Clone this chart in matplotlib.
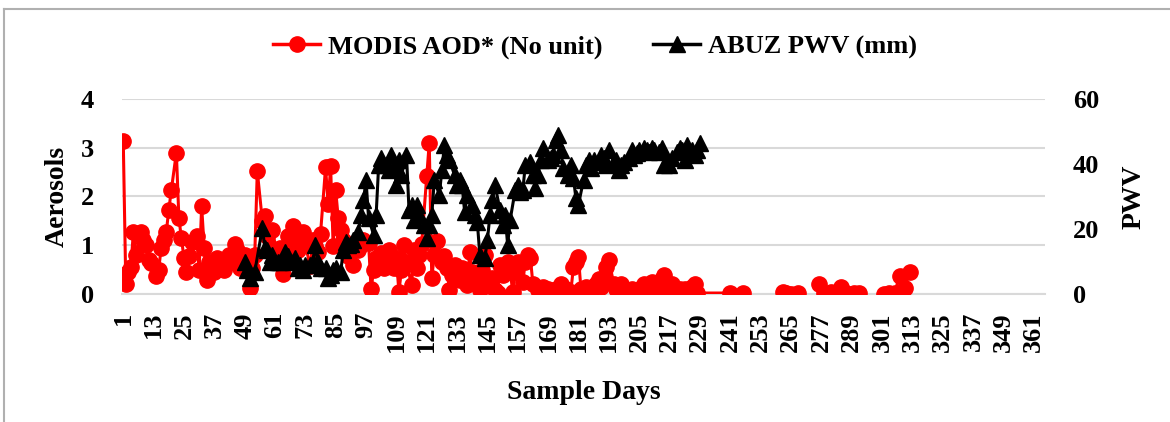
import numpy as np
import matplotlib
matplotlib.use("Agg")
import matplotlib.pyplot as plt
from matplotlib.lines import Line2D

# MODIS AOD (no unit) - sample day / value, nan = gap in the line
aod_days = [1, 2, 3, 4, 5, 6, 8, 9, 10, 11, 12, 14, 15, 16, 17, 18, 19, 20, 22, 23,
            24, 25, 26, 27, 28, 30, 31, 32, 33, 34, 35, 37, 38, 39, 40, 41, 43, 44, 45, 46,
            47, 49, 50, 51, 52, 53, 54, 56, 57, 58, 59, 60, 62, 63, 64, 65, 66, 68, 69, 70,
            71, 72, 73, 75, 76, 77, 78, 79, 81, 82, 83, 84, 85, 86, 87, 88, 89, 90, 91, 92,
            94, 95, 96, 98, 99, 100, 101, 102, 103, 104, 106, 107, 108, 109, 110, 111, 112, 113, 115, 116,
            117, 118, 119, 121, 122, 123, 124, 125, 127, 128, 129, 130, 131, 132, 134, 135, 136, 137, 138, 139,
            141, 142, 143, 144, 146, 147, 148, 149, 150, 151, 153, 154, 155, 156, 157, 159, 160, 161, 162, 163,
            165, 166, 167, 168, 169, 171, 172, 173, 174, 175, 176, 178, 179, 180, 181, 182, 183, 184, 185, 186,
            188, 189, 190, 191, 192, 193, 195, 196, 197, 198, 199, 201, 202, 203, 204, 205, 207, 208, 209, 210,
            211, 212, 214, 215, 216, 217, 218, 220, 221, 222, 223, 224, 226, 227, 228,
            241, 242, 246, 247,
            262, 263, 265, 268, 269,
            276, 278, 281, 285, 287, 290, 292, 293,
            302, 304, 306, 308, 310, 312]
aod_vals = [3.14, 0.2, 0.45, 0.55, 1.27, 0.8, 1.27, 1.1, 1.0, 0.7, 0.64, 0.37, 0.5, 0.95, 1.1, 1.27, 1.72, 2.13, 2.9, 1.55,
            1.15, 0.74, 0.45, 0.78, 1.07, 1.19, 0.49, 1.8, 0.95, 0.29, 0.66, 0.45, 0.74, 0.6, 0.66, 0.49, 0.8, 0.66, 1.03, 0.9,
            0.53, 0.8, 0.66, 0.12, 0.53, 0.8, 2.52, 1.5, 1.6, 1.19, 0.95, 1.32, 0.74, 0.95, 0.41, 0.9, 1.19, 1.4, 1.11, 0.9,
            1.11, 1.27, 1.0, 0.57, 1.11, 0.98, 0.86, 1.23, 2.6, 1.85, 2.62, 0.98, 2.13, 1.56, 1.31, 1.11, 0.98, 0.78, 0.9, 0.6,
            0.9, 1.0, 1.11, 1.05, 0.1, 0.49, 0.74, 0.64, 0.84, 0.53, 0.9, 0.66, 0.53, 0.74, 0.04, 0.49, 1.0, 0.66, 0.18, 0.9,
            0.53, 0.8, 1.03, 2.42, 3.1, 0.33, 0.8, 1.08, 0.66, 0.78, 0.53, 0.08, 0.39, 0.6, 0.29, 0.53, 0.49, 0.18, 0.86, 0.45,
            0.25, 0.08, 0.49, 0.8, 0.25, 0.33, 0.08, 0.02, 0.6, 0.39, 0.66, 0.49, 0.04, 0.45, 0.66, 0.25, 0.66, 0.8, 0.74, 0.2,
            0.08, 0.04, 0.15, 0.05, 0.1, 0.02, 0.1, 0.05, 0.2, 0.05, 0.1, 0.05, 0.55, 0.65, 0.75, 0.1, 0.05, 0.15, 0.02, 0.1,
            0.2, 0.3, 0.15, 0.3, 0.55, 0.7, 0.2, 0.1, 0.05, 0.2, 0.05, 0.02, 0.1, 0.05, 0.02, 0.1, 0.2, 0.05, 0.1, 0.25,
            0.05, 0.15, 0.3, 0.4, 0.1, 0.05, 0.2, 0.05, 0.1, 0.02, 0.1, 0.05, 0.15, 0.2, 0.02,
            0.02, np.nan, 0.02, np.nan,
            0.04, 0.02, 0.0, 0.02, np.nan,
            0.2, 0.02, 0.04, 0.15, 0.02, 0.02, 0.02, np.nan,
            0.0, 0.02, 0.02, 0.37, 0.12, 0.45]

# ABUZ PWV (mm)
pwv_days = [49, 50, 51, 53, 56, 57, 58, 59, 60, 62, 63, 64, 65, 66, 68, 69, 70, 71, 72, 73,
            75, 76, 77, 78, 79, 81, 82, 83, 84, 85, 87, 88, 89, 90, 91, 92, 94, 95, 96, 97,
            98, 100, 101, 102, 103, 104, 106, 107, 108, 109, 110, 111, 113, 114, 115, 116, 117, 118, 120, 121,
            122, 123, 124, 126, 127, 128, 129, 130, 132, 133, 134, 135, 136, 137, 139, 140, 141, 142, 144, 145,
            146, 147, 148, 150, 151, 152, 153, 154, 156, 157, 158, 159, 160, 162, 163, 164, 165, 166, 167, 169,
            170, 171, 172, 173, 174, 175, 177, 178, 179, 180, 181, 183, 184, 185, 186, 187, 189, 190, 191, 192,
            193, 195, 196, 197, 198, 199, 201, 202, 203, 204, 205, 207, 208, 209, 210, 211, 213, 214, 215, 216,
            217, 218, 220, 221, 222, 223, 224, 226, 227, 228, 229]
pwv_vals = [9.8, 7.4, 4.9, 6.8, 20.3, 14.2, 13.5, 9.8, 12.0, 9.8, 9.8, 11.1, 12.9, 11.7, 9.8, 11.1, 8.0, 8.9, 7.4, 8.9,
            8.9, 9.8, 15.1, 9.8, 8.0, 8.0, 4.9, 5.8, 7.4, 8.0, 6.8, 13.5, 16.0, 15.1, 15.4, 16.6, 19.1, 24.3, 28.9, 35.1,
            23.4, 18.2, 24.3, 39.7, 41.8, 39.7, 38.2, 42.8, 39.7, 33.5, 41.2, 36.6, 42.8, 25.8, 27.4, 22.8, 27.4, 24.3, 21.2, 17.2,
            21.2, 24.3, 35.1, 30.5, 38.2, 45.9, 42.8, 41.2, 36.6, 33.5, 35.1, 33.5, 25.2, 30.5, 27.4, 24.3, 22.2, 12.0, 11.1, 16.6,
            24.3, 28.9, 33.5, 25.8, 21.2, 24.3, 15.1, 22.8, 32.0, 33.5, 31.4, 32.0, 39.7, 40.6, 36.6, 32.6, 36.6, 41.2, 44.9, 41.2,
            41.8, 42.8, 47.4, 48.9, 44.3, 38.8, 36.6, 39.7, 35.7, 29.5, 27.4, 35.1, 39.7, 41.2, 38.8, 41.2, 40.6, 42.8, 41.8, 39.7,
            44.3, 40.6, 41.2, 38.2, 39.7, 40.6, 41.8, 44.3, 42.8, 43.4, 44.3, 44.9, 44.3, 43.7, 44.9, 44.3, 43.7, 44.9, 39.7, 40.6,
            39.7, 41.8, 43.7, 44.9, 44.3, 41.2, 45.9, 44.3, 42.8, 44.3, 46.5]

xticks = list(range(1, 366, 12))
aod_ticks = [0, 1, 2, 3, 4]
pwv_ticks = [0, 20, 40, 60]

plt.rcParams['font.family'] = ['Liberation Serif', 'DejaVu Serif']
plt.rcParams['font.weight'] = 'bold'

W, H = 1170, 422
fig = plt.figure(figsize=(W / 100, H / 100), dpi=100)
ax = fig.add_axes([122 / W, 1 - 294 / H, (1045 - 122) / W, (294 - 99) / H])
ax2 = ax.twinx()

# outer chart border
fig.add_artist(Line2D([4 / W, 4 / W], [0, 1 - 9 / H], color='#b0b0b0', lw=1.5))
fig.add_artist(Line2D([4 / W, 1], [1 - 9 / H, 1 - 9 / H], color='#b0b0b0', lw=1.5))

ax.plot(aod_days, aod_vals, color='#ff0000', lw=2.2, marker='o', ms=11, zorder=3)
ax2.plot(pwv_days, pwv_vals, color='black', lw=2.2, marker='^', ms=11, zorder=3)

ax.set_xlim(0.5, 365.5)
ax.set_ylim(0, 4)
ax2.set_ylim(0, 60)
ax.set_yticks(aod_ticks)
ax2.set_yticks(pwv_ticks)
ax.set_xticks(xticks)
ax.set_xticklabels([str(t) for t in xticks], rotation=90, fontsize=19, fontweight='bold')
ax.tick_params(axis='x', length=0, pad=13)
ax.tick_params(axis='y', length=0, pad=20, labelsize=19)
ax2.tick_params(axis='y', length=0, pad=20, labelsize=19)

ax.yaxis.grid(True, color='#d9d9d9', lw=1.5)
ax.set_axisbelow(True)
for a in (ax, ax2):
    for s in a.spines.values():
        s.set_visible(False)
ax.spines['bottom'].set_visible(True)
ax.spines['bottom'].set_color('#d9d9d9')
ax.spines['bottom'].set_linewidth(1.5)

ax.set_ylabel('Aerosols', fontsize=20, fontweight='bold', labelpad=8)
ax2.set_ylabel('PWV', fontsize=20, fontweight='bold', labelpad=16)
ax.set_xlabel('Sample Days', fontsize=20, fontweight='bold', labelpad=20)

handles = [Line2D([], [], color='#ff0000', lw=2.5, marker='o', ms=11),
           Line2D([], [], color='black', lw=2.5, marker='^', ms=11)]
fig.legend(handles, ['MODIS AOD* (No unit)', 'ABUZ PWV (mm)'], loc='center',
           bbox_to_anchor=(595 / W, 1 - 47 / H), ncol=2, frameon=False,
           prop={'size': 19, 'weight': 'bold'}, handlelength=1.8, columnspacing=1.9,
           handletextpad=0.3)

fig.savefig('out.png', dpi=100)
